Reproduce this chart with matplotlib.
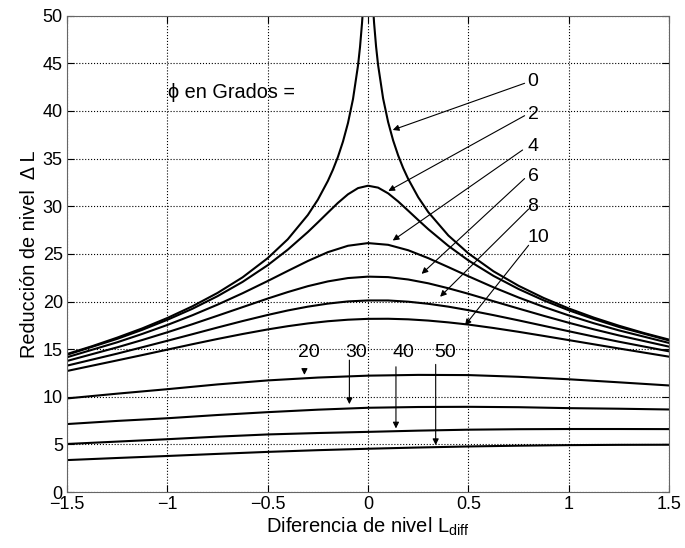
"""Reduccion de nivel vs diferencia de nivel para varios angulos de fase."""

import matplotlib
matplotlib.use("Agg")
import matplotlib.pyplot as plt

plt.rcParams["font.family"] = ["Liberation Sans", "DejaVu Sans"]
plt.rcParams["font.size"] = 13

# phi = 0 (goes off the top of the chart at Ldiff = 0)
X_PHI0 = [-1.5, -1.375, -1.25, -1.125, -1, -0.875, -0.75, -0.625, -0.5, -0.4, -0.3, -0.25, -0.2, -0.175,
          -0.15, -0.125, -0.1, -0.075, -0.05, -0.04, -0.03, -0.025, -0.02,
          0.02, 0.025, 0.03, 0.04, 0.05, 0.075, 0.1, 0.125, 0.15, 0.175, 0.2, 0.25, 0.3, 0.4, 0.5,
          0.625, 0.75, 0.875, 1, 1.125, 1.25, 1.375, 1.5]
Y_PHI0 = [14.49, 15.31, 16.21, 17.18, 18.27, 19.50, 20.90, 22.54, 24.55, 26.53, 29.08, 30.69, 32.66, 33.83,
          35.18, 36.78, 38.73, 41.24, 44.77, 46.71, 49.22, 50.81, 52.75,
          52.77, 50.83, 49.25, 46.75, 44.82, 41.31, 38.83, 36.90, 35.33, 34.00, 32.86, 30.94, 29.38, 26.93, 25.05,
          23.17, 21.65, 20.37, 19.27, 18.31, 17.46, 16.69, 16.00]

# phi = 2
X_PHI2 = [-1.5, -1.25, -1.125, -1, -0.875, -0.75, -0.625, -0.5, -0.4, -0.3, -0.25, -0.2, -0.15, -0.1, -0.05,
          0, 0.05, 0.1, 0.15, 0.2, 0.25, 0.3, 0.4, 0.5, 0.625, 0.75, 0.875, 1, 1.125, 1.25, 1.5]
Y_PHI2 = [14.41, 16.08, 17.03, 18.08, 19.24, 20.56, 22.06, 23.81, 25.44, 27.29, 28.30, 29.33, 30.35, 31.25, 31.90,
          32.15, 31.95, 31.35, 30.50, 29.53, 28.55, 27.59, 25.84, 24.31, 22.69, 21.31, 20.12, 19.08, 18.16, 17.33,
          15.91]

# phi = 4 .. 10
X_MID = [-1.5, -1.25, -1.125, -1, -0.875, -0.75, -0.625, -0.5, -0.4, -0.3, -0.2, -0.1, 0,
         0.1, 0.2, 0.3, 0.4, 0.5, 0.625, 0.75, 0.875, 1, 1.125, 1.25, 1.5]
Y_PHI4 = [14.15, 15.72, 16.60, 17.54, 18.56, 19.67, 20.87, 22.15, 23.21, 24.25, 25.18, 25.85, 26.13,
          25.95, 25.38, 24.55, 23.61, 22.65, 21.49, 20.42, 19.44, 18.54, 17.72, 16.97, 15.65]
Y_PHI6 = [13.76, 15.19, 15.96, 16.77, 17.62, 18.51, 19.41, 20.31, 20.99, 21.61, 22.11, 22.46, 22.61,
          22.56, 22.31, 21.91, 21.39, 20.81, 20.03, 19.26, 18.50, 17.77, 17.08, 16.44, 15.26]
Y_PHI8 = [13.27, 14.53, 15.20, 15.88, 16.57, 17.27, 17.95, 18.59, 19.06, 19.46, 19.78, 20.01, 20.11,
          20.11, 19.98, 19.76, 19.46, 19.09, 18.57, 18.02, 17.45, 16.88, 16.32, 15.78, 14.77]
Y_PHI10 = [12.71, 13.82, 14.38, 14.95, 15.52, 16.07, 16.59, 17.07, 17.41, 17.70, 17.93, 18.09, 18.18,
           18.19, 18.13, 18.00, 17.81, 17.58, 17.22, 16.82, 16.39, 15.95, 15.51, 15.07, 14.21]

# phi = 20 .. 50
X_LOW = [-1.5, -1.25, -1, -0.75, -0.5, -0.25, 0, 0.25, 0.5, 0.75, 1, 1.25, 1.5]
Y_PHI20 = [9.83, 10.33, 10.80, 11.30, 11.72, 12.02, 12.22, 12.30, 12.28, 12.10, 11.84, 11.52, 11.19]
Y_PHI30 = [7.14, 7.47, 7.75, 8.09, 8.39, 8.65, 8.85, 8.93, 8.95, 8.91, 8.81, 8.75, 8.67]
Y_PHI40 = [5.05, 5.30, 5.55, 5.82, 6.05, 6.20, 6.32, 6.45, 6.55, 6.60, 6.62, 6.62, 6.61]
Y_PHI50 = [3.36, 3.58, 3.79, 4.01, 4.22, 4.40, 4.55, 4.68, 4.79, 4.87, 4.93, 4.96, 4.97]

# labels for the upper curves: text, label y, arrow start, arrow tip
UPPER_LABELS = ["0", "2", "4", "6", "8", "10"]
UPPER_LABEL_Y = [43.1, 39.6, 36.3, 33.1, 30.0, 26.7]
UPPER_START = [(0.78, 42.9), (0.78, 39.5), (0.77, 35.9), (0.78, 32.9), (0.80, 29.7), (0.80, 25.9)]
UPPER_TIP = [(0.123, 38.0), (0.101, 31.6), (0.123, 26.4), (0.267, 22.9), (0.359, 20.5), (0.483, 17.5)]

# labels for the lower curves
LOWER_LABELS = ["20", "30", "40", "50"]
LOWER_LABEL_X = [-0.296, -0.06, 0.174, 0.384]
LOWER_ARROW_X = [-0.317, -0.093, 0.139, 0.337]
LOWER_ARROW_TOP = [12.95, 13.85, 13.15, 13.4]
LOWER_ARROW_TIP = [12.3, 9.23, 6.68, 4.93]


def main():
    fig = plt.figure(figsize=(6.85, 5.48), dpi=100)
    ax = fig.add_axes([0.0978, 0.102, 0.879, 0.8695])

    line_kw = dict(color="black", linewidth=1.5)
    ax.plot(X_PHI0, Y_PHI0, **line_kw)
    ax.plot(X_PHI2, Y_PHI2, **line_kw)
    for ys in [Y_PHI4, Y_PHI6, Y_PHI8, Y_PHI10]:
        ax.plot(X_MID, ys, **line_kw)
    for ys in [Y_PHI20, Y_PHI30, Y_PHI40, Y_PHI50]:
        ax.plot(X_LOW, ys, **line_kw)

    arrow_kw = dict(arrowstyle="-|>", color="black", lw=0.8, mutation_scale=9,
                    shrinkA=0, shrinkB=0)
    for lab, ly, start, tip in zip(UPPER_LABELS, UPPER_LABEL_Y, UPPER_START, UPPER_TIP):
        ax.text(0.795, ly, lab, ha="left", va="center", fontsize=14)
        ax.annotate("", xy=tip, xytext=start, arrowprops=arrow_kw)

    for lab, lx, ax_x, top, tip in zip(LOWER_LABELS, LOWER_LABEL_X, LOWER_ARROW_X,
                                       LOWER_ARROW_TOP, LOWER_ARROW_TIP):
        ax.text(lx, 14.6, lab, ha="center", va="center", fontsize=14)
        ax.annotate("", xy=(ax_x, tip), xytext=(ax_x, top), arrowprops=arrow_kw)

    ax.text(-0.996, 41.9, "\u03d5 en Grados =", ha="left", va="center", fontsize=14.3)

    ax.set_xlim(-1.5, 1.5)
    ax.set_ylim(0, 50)
    ax.set_xticks([-1.5, -1, -0.5, 0, 0.5, 1, 1.5])
    ax.set_xticklabels(["\u22121.5", "\u22121", "\u22120.5", "0", "0.5", "1", "1.5"])
    ax.set_yticks(range(0, 51, 5))
    ax.tick_params(direction="in", top=True, right=True, length=5, labelsize=13, pad=3)
    ax.grid(True, color="black", linestyle=":", linewidth=0.8)
    for sp in ax.spines.values():
        sp.set_color("#666666")

    ax.set_xlabel(r"Diferencia de nivel $\mathregular{L_{diff}}$", fontsize=14.5, labelpad=2)
    ax.set_ylabel("Reducción de nivel  \u0394 L", fontsize=14.3, labelpad=3)

    fig.savefig("out.png", dpi=100)
    plt.close(fig)


if __name__ == "__main__":
    main()
